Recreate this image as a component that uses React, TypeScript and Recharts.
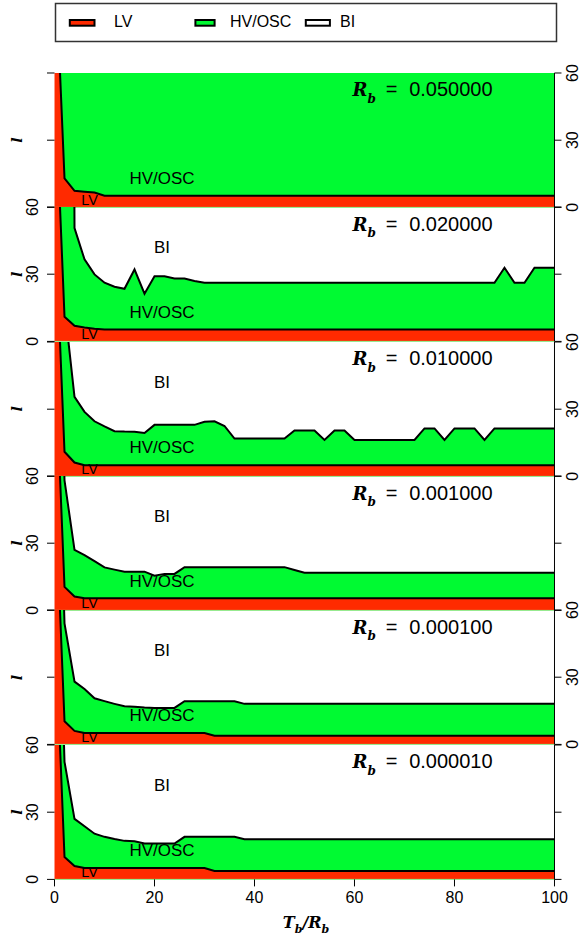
import React from 'react';
import { ComposedChart, Area, XAxis, YAxis, ReferenceDot, ReferenceLine } from 'recharts';

// T_b/R_b sampling grid
const tbRb = [
  0, 2, 4, 6, 8, 10, 12, 14, 16, 18,
  20, 22, 24, 26, 28, 30, 32, 34, 36, 38,
  40, 42, 44, 46, 48, 50, 52, 54, 56, 58,
  60, 62, 64, 66, 68, 70, 72, 74, 76, 78,
  80, 82, 84, 86, 88, 90, 92, 94, 96, 98,
  100,
];

const xTicks = [0, 20, 40, 60, 80, 100];
const yTicks = [0, 30, 60];

// l at the LV -> HV/OSC boundary and at the HV/OSC -> BI boundary, one pair per R_b
const lvEdge050 = [
  118, 13, 7.4, 7, 6.6, 5.2, 5.2, 5.2, 5.2, 5.2,
  5.2, 5.2, 5.2, 5.2, 5.2, 5.2, 5.2, 5.2, 5.2, 5.2,
  5.2, 5.2, 5.2, 5.2, 5.2, 5.2, 5.2, 5.2, 5.2, 5.2,
  5.2, 5.2, 5.2, 5.2, 5.2, 5.2, 5.2, 5.2, 5.2, 5.2,
  5.2, 5.2, 5.2, 5.2, 5.2, 5.2, 5.2, 5.2, 5.2, 5.2,
  5.2,
];
const hvEdge050 = [
  200, 200, 200, 200, 200, 200, 200, 200, 200, 200,
  200, 200, 200, 200, 200, 200, 200, 200, 200, 200,
  200, 200, 200, 200, 200, 200, 200, 200, 200, 200,
  200, 200, 200, 200, 200, 200, 200, 200, 200, 200,
  200, 200, 200, 200, 200, 200, 200, 200, 200, 200,
  200,
];

const lvEdge020 = [
  120, 11, 7, 6.2, 5.6, 5.3, 5.3, 5.3, 5.3, 5.3,
  5.3, 5.3, 5.3, 5.3, 5.3, 5.3, 5.3, 5.3, 5.3, 5.3,
  5.3, 5.3, 5.3, 5.3, 5.3, 5.3, 5.3, 5.3, 5.3, 5.3,
  5.3, 5.3, 5.3, 5.3, 5.3, 5.3, 5.3, 5.3, 5.3, 5.3,
  5.3, 5.3, 5.3, 5.3, 5.3, 5.3, 5.3, 5.3, 5.3, 5.3,
  5.3,
];
const hvEdge020 = [
  1000, 1000, 50.6, 36.6, 29.9, 26.2, 24.4, 23.5, 32.1, 21.3,
  29.1, 29.1, 28.1, 28.1, 27, 26.2, 26.2, 26.2, 26.2, 26.2,
  26.2, 26.2, 26.2, 26.2, 26.2, 26.2, 26.2, 26.2, 26.2, 26.2,
  26.2, 26.2, 26.2, 26.2, 26.2, 26.2, 26.2, 26.2, 26.2, 26.2,
  26.2, 26.2, 26.2, 26.2, 26.2, 32.9, 26.2, 26.2, 32.9, 32.9,
  32.9,
];

const lvEdge010 = [
  120, 11, 6.2, 5, 5, 5, 5, 5, 5, 5,
  5, 5, 5, 5, 5, 5, 5, 5, 5, 5,
  5, 5, 5, 5, 5, 5, 5, 5, 5, 5,
  5, 5, 5, 5, 5, 5, 5, 5, 5, 5,
  5, 5, 5, 5, 5, 5, 5, 5, 5, 5,
  5,
];
const hvEdge010 = [
  200, 76, 35.5, 28.8, 24.6, 22.3, 20.2, 20, 19.9, 19.4,
  23, 23, 23, 23, 23, 24.4, 24.6, 22.5, 16.9, 16.9,
  16.9, 16.9, 16.9, 16.9, 20.5, 20.5, 20.5, 16.3, 20.5, 20.5,
  16.3, 16.3, 16.3, 16.3, 16.3, 16.3, 16.3, 21.4, 21.4, 16.3,
  21.4, 21.4, 21.4, 16.3, 21.4, 21.4, 21.4, 21.4, 21.4, 21.4,
  21.4,
];

const lvEdge001 = [
  120, 10.5, 6.2, 5.4, 5.4, 5.4, 5.4, 5.4, 5.4, 5.4,
  5.4, 5.4, 5.4, 5.4, 5.4, 5.4, 5.4, 5.4, 5.4, 5.4,
  5.4, 5.4, 5.4, 5.4, 5.4, 5.4, 5.4, 5.4, 5.4, 5.4,
  5.4, 5.4, 5.4, 5.4, 5.4, 5.4, 5.4, 5.4, 5.4, 5.4,
  5.4, 5.4, 5.4, 5.4, 5.4, 5.4, 5.4, 5.4, 5.4, 5.4,
  5.4,
];
const hvEdge001 = [
  200, 58, 27, 24.7, 22, 19.2, 18.2, 17.3, 17.3, 17.3,
  15.5, 16.3, 16.3, 19.3, 19.3, 19.3, 19.3, 19.3, 19.3, 19.3,
  19.3, 19.3, 19.3, 19.3, 18, 16.8, 16.8, 16.8, 16.8, 16.8,
  16.8, 16.8, 16.8, 16.8, 16.8, 16.8, 16.8, 16.8, 16.8, 16.8,
  16.8, 16.8, 16.8, 16.8, 16.8, 16.8, 16.8, 16.8, 16.8, 16.8,
  16.8,
];

const lvEdge0001 = [
  120, 10.3, 6, 5.1, 5.1, 5.1, 5.1, 5.1, 5.1, 5.1,
  5.1, 5.1, 5.1, 5.1, 5.1, 5.1, 3.9, 3.9, 3.9, 3.9,
  3.9, 3.9, 3.9, 3.9, 3.9, 3.9, 3.9, 3.9, 3.9, 3.9,
  3.9, 3.9, 3.9, 3.9, 3.9, 3.9, 3.9, 3.9, 3.9, 3.9,
  3.9, 3.9, 3.9, 3.9, 3.9, 3.9, 3.9, 3.9, 3.9, 3.9,
  3.9,
];
const hvEdge0001 = [
  200, 54, 28, 24.7, 20.6, 19.3, 18.1, 17, 16.8, 16.5,
  16.3, 16.3, 16.3, 19.3, 19.3, 19.3, 19.3, 19.3, 19.3, 18.1,
  18.1, 18.1, 18.1, 18.1, 18.1, 18.1, 18.1, 18.1, 18.1, 18.1,
  18.1, 18.1, 18.1, 18.1, 18.1, 18.1, 18.1, 18.1, 18.1, 18.1,
  18.1, 18.1, 18.1, 18.1, 18.1, 18.1, 18.1, 18.1, 18.1, 18.1,
  18.1,
];

const lvEdge00001 = [
  120, 10, 6, 5.1, 5.1, 5.1, 5.1, 5.1, 5.1, 5.1,
  5.1, 5.1, 5.1, 5.1, 5.1, 5.1, 3.8, 3.8, 3.8, 3.8,
  3.8, 3.8, 3.8, 3.8, 3.8, 3.8, 3.8, 3.8, 3.8, 3.8,
  3.8, 3.8, 3.8, 3.8, 3.8, 3.8, 3.8, 3.8, 3.8, 3.8,
  3.8, 3.8, 3.8, 3.8, 3.8, 3.8, 3.8, 3.8, 3.8, 3.8,
  3.8,
];
const hvEdge00001 = [
  200, 52.5, 27, 23.7, 20.4, 19, 18, 17.2, 17, 16,
  16, 16, 16, 19, 19, 19, 19, 19, 19, 17.9,
  17.9, 17.9, 17.9, 17.9, 17.9, 17.9, 17.9, 17.9, 17.9, 17.9,
  17.9, 17.9, 17.9, 17.9, 17.9, 17.9, 17.9, 17.9, 17.9, 17.9,
  17.9, 17.9, 17.9, 17.9, 17.9, 17.9, 17.9, 17.9, 17.9, 17.9,
  17.9,
];

const panels = [
  { rb: '0.050000', lv: lvEdge050, hv: hvEdge050, bi: false },
  { rb: '0.020000', lv: lvEdge020, hv: hvEdge020, bi: true },
  { rb: '0.010000', lv: lvEdge010, hv: hvEdge010, bi: true },
  { rb: '0.001000', lv: lvEdge001, hv: hvEdge001, bi: true },
  { rb: '0.000100', lv: lvEdge0001, hv: hvEdge0001, bi: true },
  { rb: '0.000010', lv: lvEdge00001, hv: hvEdge00001, bi: true },
];

const W = 581;
const H = 939;
const PANEL_TOP = 72.8;
const PANEL_H = 134.4;
const PAD = 12; // room above/below each panel for the end tick labels
const PLOT_LEFT = 54.5;
const PLOT_RIGHT = 554.5;
const AXIS_H = 50;

const RED = '#FF2A00';
const GREEN = '#00FA32';
const SANS = '"Liberation Sans", Arial, Helvetica, sans-serif';
const SERIF = '"DejaVu Serif", serif';

// rotated tick label, reads bottom-to-top like base R
function SideTick(props: any) {
  const { x, y, payload, show } = props;
  if (!show) return <g />;
  return (
    <text
      x={x}
      y={y}
      transform={`rotate(-90 ${x} ${y})`}
      textAnchor="middle"
      fontSize={16}
      fontFamily={SANS}
      fill="#000"
    >
      {payload.value}
    </text>
  );
}

const regionLabel = (value: string, size: number) => ({
  value,
  position: 'center' as const,
  fontSize: size,
  fontFamily: SANS,
  fill: '#000',
});

function Panel({ panel, index }: { panel: typeof panels[number]; index: number }) {
  const last = index === panels.length - 1;
  const top = PANEL_TOP + index * PANEL_H;
  const rows = tbRb.map((x, i) => ({ x, lv: panel.lv[i], hv: panel.hv[i] }));

  return (
    <div style={{ position: 'absolute', left: 0, top: top - PAD }}>
      <ComposedChart
        width={W}
        height={PANEL_H + PAD + (last ? AXIS_H : PAD)}
        data={rows}
        margin={{ top: PAD, right: 0, bottom: last ? 0 : PAD, left: 0 }}
      >
        <XAxis
          dataKey="x"
          type="number"
          domain={[0, 100]}
          ticks={xTicks}
          interval={0}
          hide={!last}
          height={AXIS_H}
          axisLine={false}
          tickLine={{ stroke: '#000' }}
          tickSize={7}
          tickMargin={5}
          tick={{ fontSize: 16, fontFamily: SANS, fill: '#000' }}
        />
        <YAxis
          yAxisId="l"
          type="number"
          domain={[0, 60]}
          ticks={yTicks}
          interval={0}
          allowDataOverflow
          width={PLOT_LEFT}
          axisLine={false}
          tickLine={{ stroke: '#000' }}
          tickSize={7.5}
          tickMargin={8.7}
          tick={(p: any) => <SideTick {...p} show={index % 2 === 1} />}
        />
        <YAxis
          yAxisId="r"
          orientation="right"
          type="number"
          domain={[0, 60]}
          ticks={yTicks}
          interval={0}
          allowDataOverflow
          width={W - PLOT_RIGHT}
          axisLine={{ stroke: '#000' }}
          tickLine={{ stroke: '#000' }}
          tickSize={7}
          tickMargin={16.5}
          tick={(p: any) => <SideTick {...p} show={index % 2 === 0} />}
        />
        <Area
          yAxisId="l"
          dataKey="lv"
          type="linear"
          fill={RED}
          fillOpacity={1}
          stroke="none"
          isAnimationActive={false}
        />
        <Area
          yAxisId="l"
          dataKey={(d: any) => [d.lv, d.hv]}
          type="linear"
          fill={GREEN}
          fillOpacity={1}
          stroke="#000"
          strokeWidth={2}
          isAnimationActive={false}
        />
        <ReferenceLine yAxisId="l" y={0} stroke="#8BEF8B" strokeWidth={1} />
        {panel.bi && (
          <ReferenceDot yAxisId="l" x={21.5} y={42} r={0} fill="none" stroke="none" label={regionLabel('BI', 17)} />
        )}
        <ReferenceDot yAxisId="l" x={21.5} y={13.2} r={0} fill="none" stroke="none" label={regionLabel('HV/OSC', 17)} />
        <ReferenceDot yAxisId="l" x={7} y={3.4} r={0} fill="none" stroke="none" label={regionLabel('LV', 14.5)} />
      </ComposedChart>
    </div>
  );
}

const legendItems = [
  { name: 'LV', color: RED, x: 69.8, w: 24.7, tx: 114 },
  { name: 'HV/OSC', color: GREEN, x: 195.4, w: 19.2, tx: 230 },
  { name: 'BI', color: '#fff', x: 305.8, w: 24.1, tx: 340 },
];

export default function App() {
  return (
    <div style={{ position: 'absolute', left: 0, top: 0, width: W, height: H, background: '#fff', overflow: 'hidden' }}>
      {panels.map((p, k) => (
        <Panel key={p.rb} panel={p} index={k} />
      ))}
      <svg width={W} height={H} style={{ position: 'absolute', left: 0, top: 0, pointerEvents: 'none' }}>
        {/* legend */}
        <rect x={55.5} y={3.5} width={501} height={38} fill="none" stroke="#333" strokeWidth={1.5} />
        {legendItems.map((it) => (
          <g key={it.name}>
            <rect x={it.x} y={20} width={it.w} height={5.7} fill={it.color} stroke="#000" strokeWidth={2} />
            <text x={it.tx} y={27} fontSize={16} fontFamily={SANS} fill="#000">
              {it.name}
            </text>
          </g>
        ))}

        {panels.map((p, k) => {
          const top = PANEL_TOP + k * PANEL_H;
          const mid = top + PANEL_H / 2;
          return (
            <g key={p.rb}>
              <text y={top + 23.5} fontSize={20} fill="#000">
                <tspan x={352.5} fontFamily={SERIF} fontStyle="italic" fontWeight="bold" fontSize={18}>
                  R
                </tspan>
                <tspan x={367.5} dy={6.5} fontFamily={SERIF} fontStyle="italic" fontWeight="bold" fontSize={12}>
                  b
                </tspan>
                <tspan x={385.7} dy={-6.5} fontFamily={SANS}>
                  =
                </tspan>
                <tspan x={409.2} fontFamily={SANS}>
                  {p.rb}
                </tspan>
              </text>
              <text
                x={21.7}
                y={mid}
                transform={`rotate(-90 21.7 ${mid})`}
                textAnchor="middle"
                fontFamily={SERIF}
                fontStyle="italic"
                fontWeight="bold"
                fontSize={14}
                fill="#000"
              >
                l
              </text>
            </g>
          );
        })}

        {/* x-axis title */}
        <text x={306} y={928.3} textAnchor="middle" fontFamily={SERIF} fontStyle="italic" fontWeight="bold" fontSize={16} fill="#000">
          T<tspan dy={5} fontSize={11}>b</tspan>
          <tspan dy={-5}>/R</tspan>
          <tspan dy={5} fontSize={11}>b</tspan>
        </text>
      </svg>
    </div>
  );
}
